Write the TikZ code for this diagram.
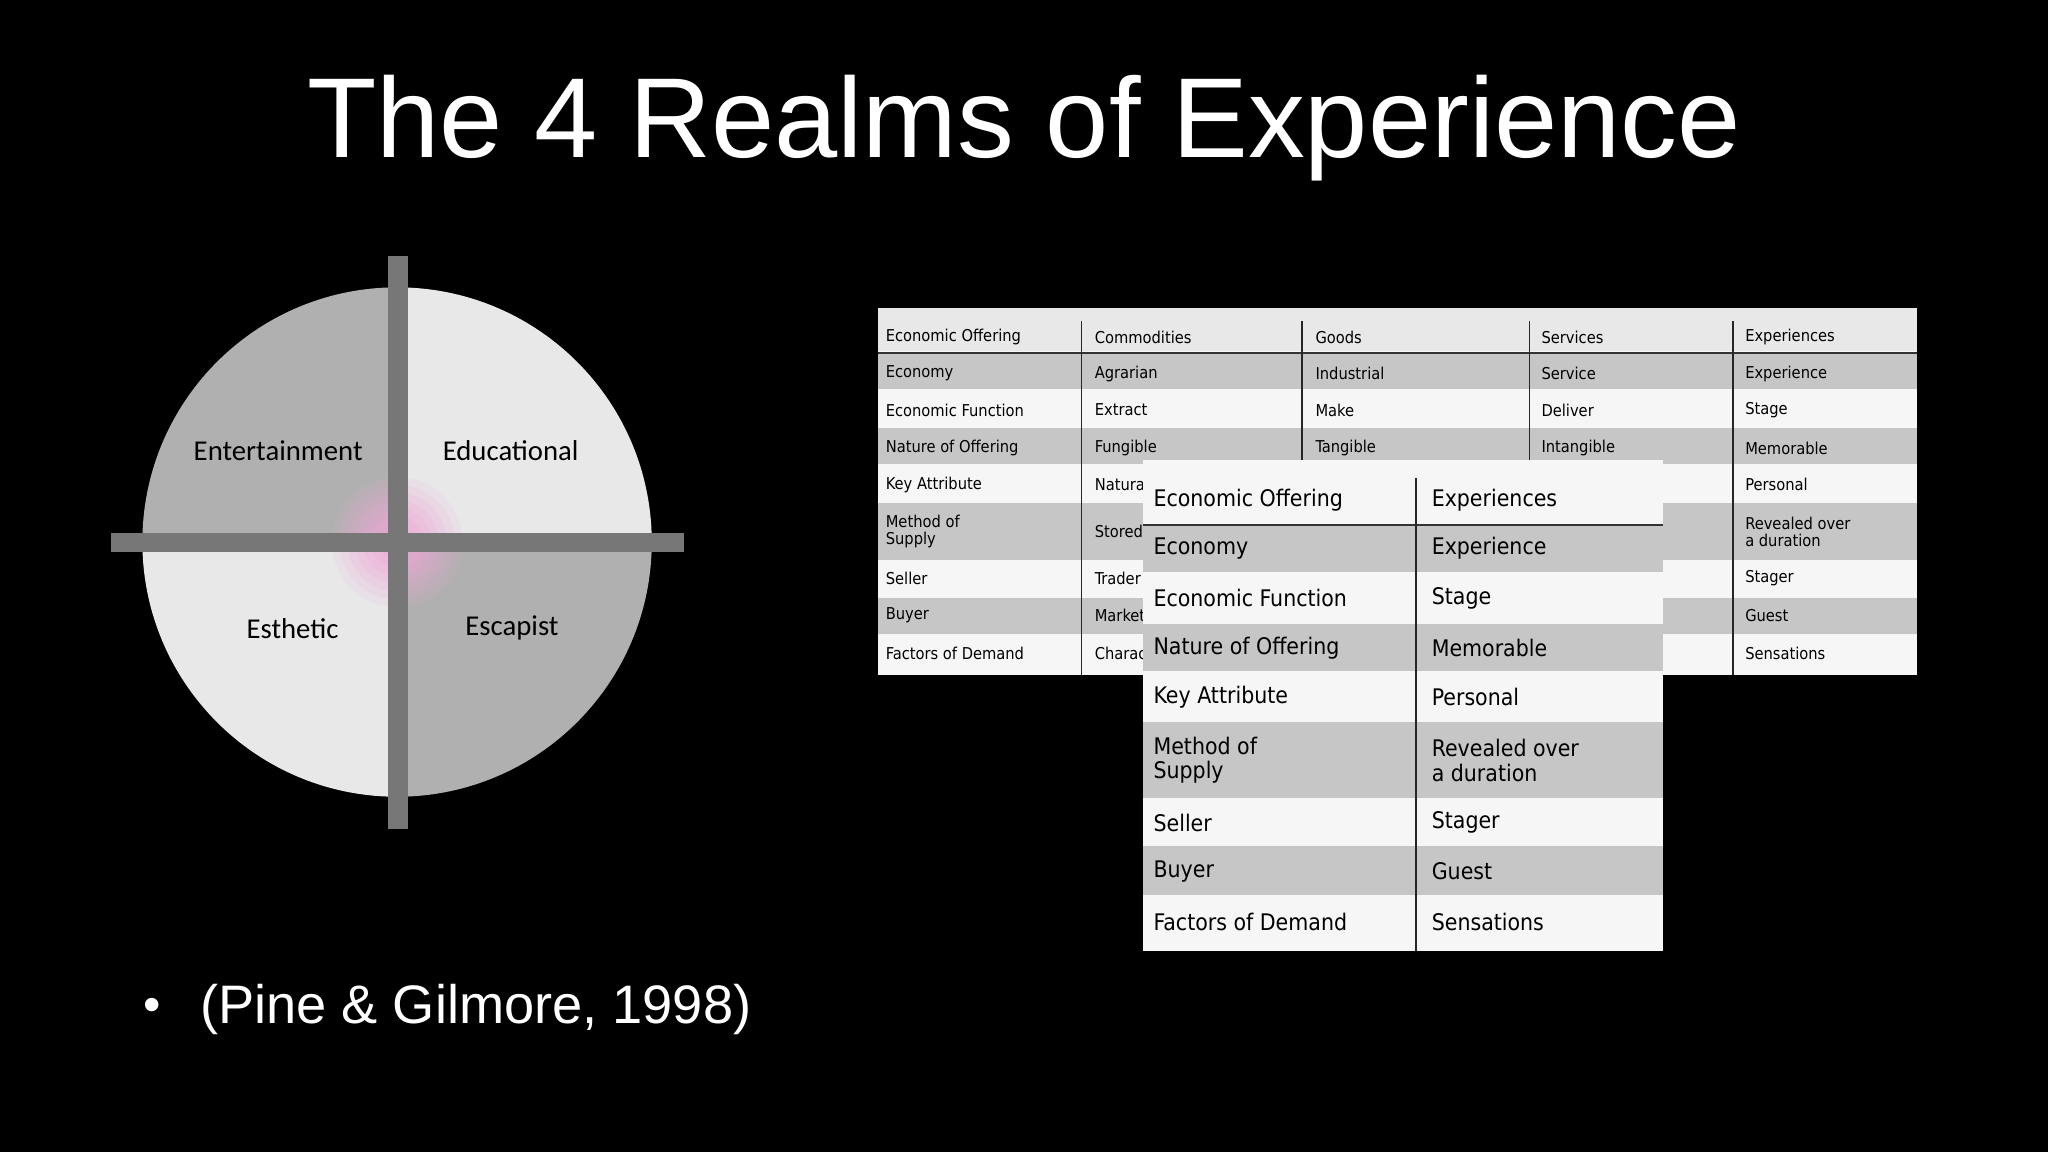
\documentclass[tikz,border=0pt]{standalone}
\usepackage{fontspec}
\setmainfont{Liberation Sans}
\newfontfamily\myquadfont{Carlito}
\newfontfamily\mytabfont{DejaVu Sans Condensed}
\definecolor{qdark}{HTML}{B0B0B0}
\definecolor{qlight}{HTML}{E8E8E8}
\definecolor{bar}{HTML}{777777}
\definecolor{rowg}{HTML}{C6C6C6}
\definecolor{roww}{HTML}{F6F6F6}
\definecolor{glow}{HTML}{F0A8D8}
\begin{document}
\begin{tikzpicture}[x=1pt,y=-1pt,
 quad/.style={font=\myquadfont\fontsize{22}{24}\selectfont,text=black},
 bt/.style={anchor=west,font=\mytabfont\fontsize{12.5}{13}\selectfont,align=left,inner sep=0pt,text=black},
 ft/.style={anchor=west,font=\mytabfont\fontsize{17.5}{19}\selectfont,align=left,inner sep=0pt,text=black}]
\fill[black] (0,0) rectangle (1568,882);
\useasboundingbox (0,0) rectangle (1568,882);
\node[text=white,font=\fontsize{87}{95}\selectfont] (title) at (784,98) {The 4 Realms of Experience};
% circle
\fill[qlight] (304,415) -- ++(180:195) arc[start angle=180,end angle=90,radius=195] -- cycle;
\fill[qdark] (304,415) -- ++(90:195) arc[start angle=90,end angle=0,radius=195] -- cycle;
\fill[qdark] (304,415) -- ++(180:195) arc[start angle=180,end angle=270,radius=195] -- cycle;
\fill[qlight] (304,415) -- ++(270:195) arc[start angle=270,end angle=360,radius=195] -- cycle;
\foreach \r/\o in {50/0.12,44/0.15,38/0.18,32/0.2,26/0.22,20/0.25,14/0.25}
  \fill[glow,opacity=\o] (304,415) circle (\r);
\fill[bar] (297,196) rectangle (312,635);
\fill[bar] (85,408) rectangle (524,423);
\node[quad] (ent) at (213,345) {Entertainment};
\node[quad] (edu) at (391,345) {Educational};
\node[quad] (est) at (224,481) {Esthetic};
\node[quad] (esc) at (392,481) {Escapist};
% back table
\fill[roww] (672,236) rectangle (1468,517);
\foreach \a/\b/\c in {236/270/qlight,270/299/rowg,299/328/roww,328/357/rowg,357/385/roww,385/430/rowg,430/458/roww,458/487/rowg,487/517/roww}
  \fill[\c] (672,\a) rectangle (1468,\b-1.5);
\draw[black!80,line width=1.5pt] (672,270) -- (1468,270);
\foreach \x in {828,997,1171,1327} \draw[black!85,line width=1.5pt] (\x,246) -- (\x,517);
\foreach \yy/\ta/\tb/\tc/\td/\te [count=\i] in {
 258/Economic Offering/Commodities/Goods/Services/Experiences,
 286/Economy/Agrarian/Industrial/Service/Experience,
 314/Economic Function/Extract/Make/Deliver/Stage,
 343/Nature of Offering/Fungible/Tangible/Intangible/Memorable,
 371/Key Attribute/Natural/Standardized/Customized/Personal,
 407/{Method of\\Supply}/{Stored in bulk}/{Inventoried}/{Delivered on}/{Revealed over\\a duration},
 443/Seller/Trader/Manufacturer/Provider/Stager,
 471/Buyer/Market/User/Client/Guest,
 500/Factors of Demand/Characteristics/Features/Benefits/Sensations}{
 \node[bt] (ba\i) at (678,\yy) {\ta};
 \node[bt] (bb\i) at (838,\yy) {\tb};
 \node[bt] (bc\i) at (1007,\yy) {\tc};
 \node[bt] (bd\i) at (1180,\yy) {\td};
 \node[bt] (be\i) at (1336,\yy) {\te};
}
% front table
\fill[roww] (875,352) rectangle (1273,728);
\foreach \a/\b/\c in {402/440/rowg,440/478/roww,478/516/rowg,516/553/roww,553/613/rowg,613/648/roww,648/687/rowg,687/728/roww}
  \fill[\c] (875,\a) rectangle (1273,\b-2);
\draw[black!80,line width=1.5pt] (875,402) -- (1273,402);
\draw[black!85,line width=1.5pt] (1084,366) -- (1084,728);
\foreach \yy/\ta/\tb [count=\i] in {
 383/Economic Offering/Experiences,
 420/Economy/Experience,
 458/Economic Function/Stage,
 496/Nature of Offering/Memorable,
 534/Key Attribute/Personal,
 582/{Method of\\Supply}/{Revealed over\\a duration},
 630/Seller/Stager,
 667/Buyer/Guest,
 706/Factors of Demand/Sensations}{
 \node[ft] (fa\i) at (883,\yy) {\ta};
 \node[ft] (fb\i) at (1096,\yy) {\tb};
}
\node[text=white,font=\fontsize{38}{42}\selectfont,anchor=west] (bul) at (106,773) {•};
\node[text=white,font=\fontsize{41.5}{44}\selectfont,anchor=west,inner sep=0pt] (cite) at (153,773) {(Pine \& Gilmore, 1998)};
\end{tikzpicture}
\end{document}
